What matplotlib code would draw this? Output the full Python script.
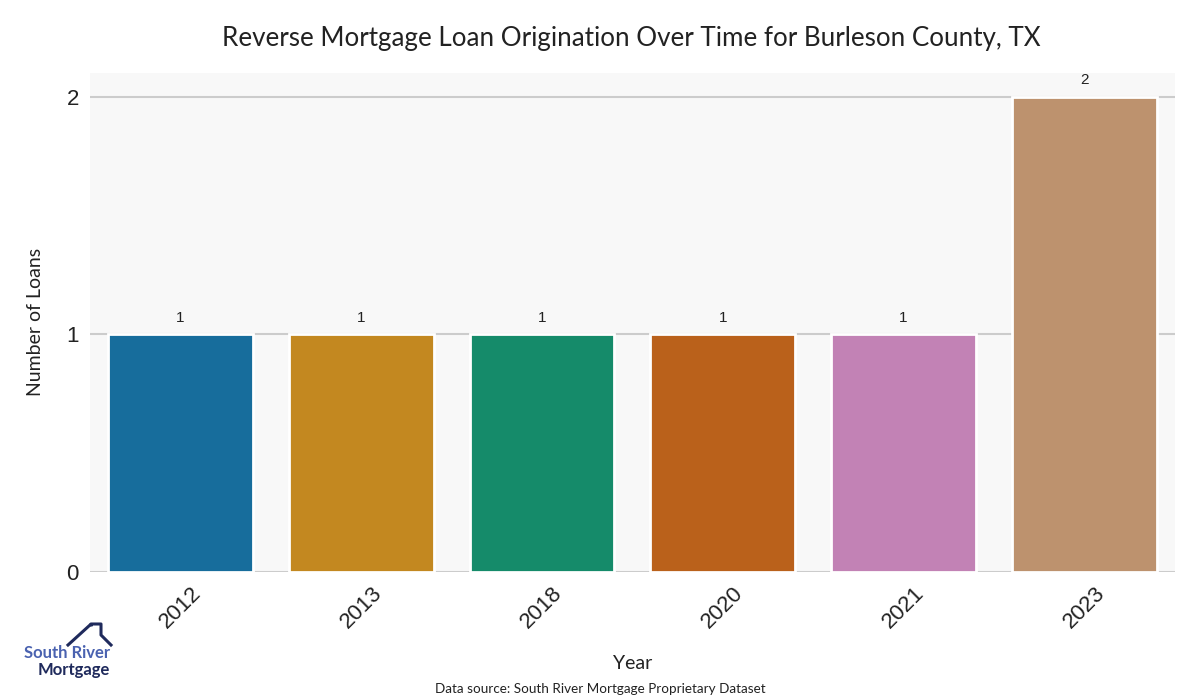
import matplotlib
matplotlib.use("Agg")
import matplotlib.pyplot as plt
import seaborn as sns
import numpy as np

years = ["2012", "2013", "2018", "2020", "2021", "2023"]
loans = [1, 1, 1, 1, 1, 2]

colors = sns.color_palette("colorblind", len(years), desat=0.75)

fig = plt.figure(figsize=(12, 7), dpi=100)
ax = fig.add_axes([0.075, 0.183, 0.904, 0.713])
ax.set_facecolor("#f8f8f8")

x = np.arange(len(years))
bars = ax.bar(x, loans, width=0.8, color=colors, edgecolor="white", linewidth=2, zorder=3)
for xi, v in zip(x, loans):
    ax.text(xi, v + 0.04, str(v), ha="center", va="bottom", fontsize=11,
            color="#222222", family="Liberation Sans")

ax.set_xlim(-0.5, len(years) - 0.5)
ax.set_ylim(0, 2.1)
ax.set_yticks([0, 1, 2])
ax.set_xticks(x)
ax.set_xticklabels(years, rotation=45, fontsize=16, family="Liberation Sans", color="#222222")
for lab in ax.get_yticklabels():
    lab.set_fontsize(16)
    lab.set_family("Liberation Sans")
    lab.set_color("#222222")
ax.yaxis.grid(True, color="#cccccc", linewidth=1.5, zorder=0)
ax.tick_params(length=0, pad=8)
for s in ax.spines.values():
    s.set_visible(False)

ax.set_xlabel("Year", fontsize=14, family="Lato", color="#222222", labelpad=16)
ax.set_ylabel("Number of Loans", fontsize=14, family="Lato", color="#222222", labelpad=16)
fig.text(0.526, 0.945, "Reverse Mortgage Loan Origination Over Time for Burleson County, TX",
         ha="center", va="center", fontsize=18.7, family="Lato", color="#222222")
fig.text(0.5, 0.016, "Data source: South River Mortgage Proprietary Dataset",
         ha="center", va="center", fontsize=9.7, family="Lato", color="#222222")

# logo
fig.text(110 / 1200, 0.067, "South River", fontsize=12, fontweight="bold", color="#4a62b0",
         family="Lato", ha="right", va="center")
fig.text(110 / 1200, 0.043, "Mortgage", fontsize=12, fontweight="bold", color="#1f2a5c",
         family="Lato", ha="right", va="center")
H = 700.0
fig.add_artist(plt.Line2D([68 / 1200, 90 / 1200], [(H - 645) / H, (H - 625) / H],
                          color="#1f2a5c", linewidth=2.2, transform=fig.transFigure))
fig.add_artist(plt.Line2D([91 / 1200, 91 / 1200, 101 / 1200, 101 / 1200, 111 / 1200],
                          [(H - 625) / H, (H - 624) / H, (H - 624) / H, (H - 635) / H, (H - 645) / H],
                          color="#1f2a5c", linewidth=2.2, transform=fig.transFigure))

fig.savefig("out.png", dpi=100)
